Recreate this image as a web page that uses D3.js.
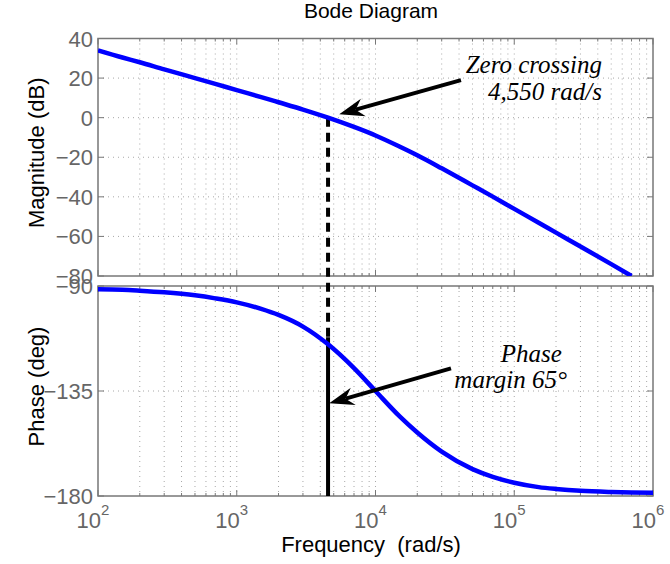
<!DOCTYPE html>
<html>
<head>
<meta charset="utf-8">
<script src="https://cdn.jsdelivr.net/npm/d3@7"></script>
<style>
  body { margin: 0; background: #fff; }
  svg { display: block; font-family: "Liberation Sans", Arial, sans-serif; }
</style>
</head>
<body>
<div id="chart"></div>
<script>
// frequency samples (rad/s)
const freq = [100, 150, 200, 300, 500, 700, 1000, 1500, 2000, 3000, 4550, 7000,
  10000, 15000, 20000, 30000, 50000, 70000, 100000, 150000, 200000, 300000, 500000, 700000, 1000000];
const magDb = [34.0, 30.4, 28.0, 24.4, 20.0, 17.1, 13.9, 10.4, 7.8, 4.1, 0, -4.7,
  -9.0, -14.7, -19.0, -25.6, -34.2, -39.9, -46.1, -53.1, -58.1, -65.1, -74.0, -80.0, null];
const phaseDeg = [-91.4, -91.6, -92.0, -92.7, -94.0, -95.3, -97.0, -99.8, -102.4, -107.4, -115.0, -125.2,
  -135.0, -146.0, -152.8, -161.0, -168.5, -171.8, -174.3, -176.2, -177.0, -177.8, -178.3, -178.5, -178.6];

const magTicks = [40, 20, 0, -20, -40, -60, -80];
const phaseTicks = [-90, -135, -180];
const decadeExp = [2, 3, 4, 5, 6];

// crossover annotation
const crossFreq = 4550;
const crossPhase = -112;

const width = 670, height = 564;
const plot = { left: 98, right: 653, magTop: 38.5, magBottom: 276, phTop: 286, phBottom: 496 };

const svg = d3.select("#chart").append("svg")
  .attr("width", width)
  .attr("height", height);

const x = d3.scaleLog().domain([1e2, 1e6]).range([plot.left, plot.right]);
const yMag = d3.scaleLinear().domain([-80, 40]).range([plot.magBottom, plot.magTop]);
const yPh = d3.scaleLinear().domain([-180, -90]).range([plot.phBottom, plot.phTop]);

// all log grid positions (1..9 per decade)
const logGrid = [];
decadeExp.slice(0, -1).forEach(e => {
  for (let m = 1; m < 10; m++) logGrid.push(m * Math.pow(10, e));
});
logGrid.push(1e6);
const majorX = decadeExp.map(e => Math.pow(10, e));

function drawPanel(y, ticks, top, bottom, id) {
  const g = svg.append("g");

  svg.append("clipPath").attr("id", id)
    .append("rect")
    .attr("x", plot.left).attr("y", top)
    .attr("width", plot.right - plot.left).attr("height", bottom - top);

  // dotted grid
  g.selectAll(".vgrid")
    .data(logGrid.filter(d => d > 1e2 && d < 1e6))
    .enter().append("line")
    .attr("x1", d => x(d)).attr("x2", d => x(d))
    .attr("y1", top).attr("y2", bottom)
    .attr("stroke", "#a8a8a8")
    .attr("stroke-width", 1)
    .attr("stroke-dasharray", "1,4");

  g.selectAll(".hgrid")
    .data(ticks.filter(d => y(d) > top + 1 && y(d) < bottom - 1))
    .enter().append("line")
    .attr("x1", plot.left).attr("x2", plot.right)
    .attr("y1", d => y(d)).attr("y2", d => y(d))
    .attr("stroke", "#a8a8a8")
    .attr("stroke-width", 1)
    .attr("stroke-dasharray", "1,4");

  // tick marks on all sides
  const ticksG = g.append("g").attr("stroke", "#777").attr("stroke-width", 1);
  logGrid.forEach(d => {
    const len = majorX.includes(d) ? 6 : 3;
    ticksG.append("line").attr("x1", x(d)).attr("x2", x(d)).attr("y1", bottom).attr("y2", bottom - len);
    ticksG.append("line").attr("x1", x(d)).attr("x2", x(d)).attr("y1", top).attr("y2", top + len);
  });
  ticks.forEach(d => {
    ticksG.append("line").attr("x1", plot.left).attr("x2", plot.left + 6).attr("y1", y(d)).attr("y2", y(d));
    ticksG.append("line").attr("x1", plot.right).attr("x2", plot.right - 6).attr("y1", y(d)).attr("y2", y(d));
  });

  // frame
  g.append("rect")
    .attr("x", plot.left).attr("y", top)
    .attr("width", plot.right - plot.left).attr("height", bottom - top)
    .attr("fill", "none")
    .attr("stroke", "#777")
    .attr("stroke-width", 1.5);

  // y tick labels
  g.selectAll(".ylab")
    .data(ticks)
    .enter().append("text")
    .attr("x", plot.left - 5)
    .attr("y", d => y(d) + 8)
    .attr("text-anchor", "end")
    .attr("fill", "#666")
    .style("font-size", "22px")
    .text(d => d < 0 ? "\u2212" + Math.abs(d) : d);

  return g;
}

const magG = drawPanel(yMag, magTicks, plot.magTop, plot.magBottom, "clipMag");
const phG = drawPanel(yPh, phaseTicks, plot.phTop, plot.phBottom, "clipPh");

// x tick labels 10^n
decadeExp.forEach(e => {
  const t = svg.append("text")
    .attr("x", x(Math.pow(10, e)) - 5)
    .attr("y", 528)
    .attr("text-anchor", "middle")
    .attr("fill", "#666")
    .style("font-size", "22px");
  t.append("tspan").text("10");
  t.append("tspan").attr("dy", -13).style("font-size", "15px").text(e);
});

// crossover lines
const xc = x(crossFreq);
svg.append("line")
  .attr("x1", xc).attr("x2", xc)
  .attr("y1", yMag(0)).attr("y2", yPh(crossPhase))
  .attr("stroke", "#000")
  .attr("stroke-width", 4)
  .attr("stroke-dasharray", "9,6");
svg.append("line")
  .attr("x1", xc).attr("x2", xc)
  .attr("y1", yPh(crossPhase)).attr("y2", yPh(-180))
  .attr("stroke", "#000")
  .attr("stroke-width", 4);

// curves
const magPts = freq.map((f, i) => [f, magDb[i]]).filter(d => d[1] !== null);
const phPts = freq.map((f, i) => [f, phaseDeg[i]]);

svg.append("path")
  .datum(magPts)
  .attr("clip-path", "url(#clipMag)")
  .attr("fill", "none")
  .attr("stroke", "#0000ff")
  .attr("stroke-width", 4.5)
  .attr("d", d3.line().x(d => x(d[0])).y(d => yMag(d[1])).curve(d3.curveMonotoneX));

svg.append("path")
  .datum(phPts)
  .attr("clip-path", "url(#clipPh)")
  .attr("fill", "none")
  .attr("stroke", "#0000ff")
  .attr("stroke-width", 4.5)
  .attr("d", d3.line().x(d => x(d[0])).y(d => yPh(d[1])).curve(d3.curveMonotoneX));

// arrows (tail -> tip, in data units)
function arrow(x0, y0, x1, y1) {
  const dx = x1 - x0, dy = y1 - y0;
  const len = Math.sqrt(dx * dx + dy * dy);
  const ux = dx / len, uy = dy / len;
  const vx = -uy, vy = ux;
  const L = 25, w = 9, notch = 17;
  svg.append("line")
    .attr("x1", x0).attr("y1", y0)
    .attr("x2", x1 - ux * notch).attr("y2", y1 - uy * notch)
    .attr("stroke", "#000")
    .attr("stroke-width", 4);
  const pts = [
    [x1, y1],
    [x1 - ux * L + vx * w, y1 - uy * L + vy * w],
    [x1 - ux * notch, y1 - uy * notch],
    [x1 - ux * L - vx * w, y1 - uy * L - vy * w]
  ];
  svg.append("polygon")
    .attr("points", pts.map(p => p.join(",")).join(" "))
    .attr("fill", "#000");
}

arrow(x(41300), yMag(19.0), x(5480), yMag(1.7));
arrow(x(35000), yPh(-125.3), x(4640), yPh(-140.3));

// annotation text
function note(str, px, py, anchor) {
  svg.append("text")
    .attr("x", px).attr("y", py)
    .attr("text-anchor", anchor)
    .style("font-family", "'Liberation Serif', 'Times New Roman', serif")
    .style("font-style", "italic")
    .style("font-size", "25px")
    .text(str);
}
note("Zero crossing", x(429000), yMag(22.6), "end");
note("4,550 rad/s", x(429000), yMag(8.9), "end");
note("Phase", x(79800), yPh(-122.4), "start");
note("margin 65\u00b0", x(37000), yPh(-133.7), "start");

// titles
const cx = (plot.left + plot.right) / 2 - 4.5;
svg.append("text")
  .attr("x", cx).attr("y", 18)
  .attr("text-anchor", "middle")
  .style("font-size", "21px")
  .text("Bode Diagram");

svg.append("text")
  .attr("x", cx).attr("y", 552)
  .attr("text-anchor", "middle")
  .style("font-size", "22px")
  .attr("xml:space", "preserve")
  .text("Frequency  (rad/s)");

svg.append("text")
  .attr("transform", `translate(44,${(plot.magTop + plot.magBottom) / 2 - 4.5}) rotate(-90)`)
  .attr("text-anchor", "middle")
  .style("font-size", "22px")
  .text("Magnitude (dB)");

svg.append("text")
  .attr("transform", `translate(44,${(plot.phTop + plot.phBottom) / 2 - 4.5}) rotate(-90)`)
  .attr("text-anchor", "middle")
  .style("font-size", "22px")
  .text("Phase (deg)");
</script>
</body>
</html>
